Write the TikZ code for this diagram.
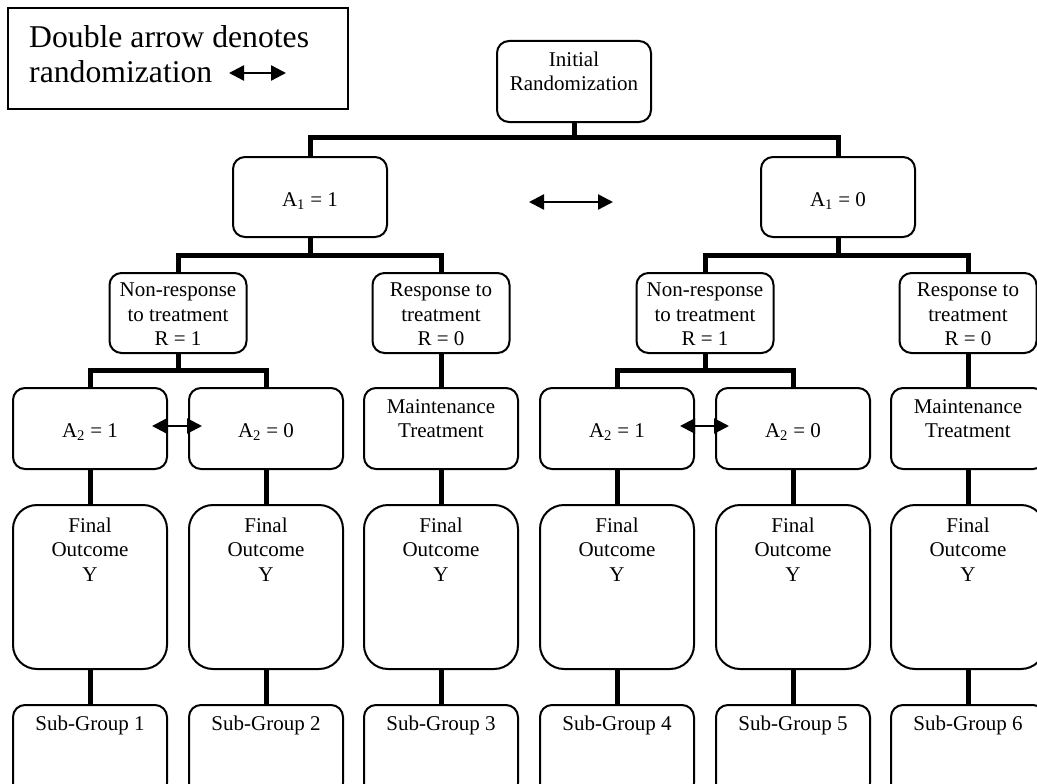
\documentclass[tikz,border=0pt]{standalone}
\usepackage{fontspec}
\setmainfont{Liberation Serif}
\usetikzlibrary{arrows.meta}
\newcommand{\tbx}[2]{\parbox[c][#1][t]{132pt}{\centering\fontsize{21}{24.5}\selectfont #2}}
\begin{document}
\begin{tikzpicture}[x=1pt,y=-1pt,
  box/.style={draw, line width=2pt, rounded corners=12pt, inner sep=0pt,
    minimum width=154pt, font=\fontsize{21}{24.5}\selectfont},
  fobox/.style={box, rounded corners=24pt, minimum height=164pt},
  sgbox/.style={box, minimum height=90pt},
  conn/.style={line width=5pt, line join=miter},
  dblarrow/.style={line width=2.4pt,
    {Triangle[length=15pt,width=15pt]}-{Triangle[length=15pt,width=15pt]}},
  legtxt/.style={inner sep=0pt, font=\fontsize{31.7}{35}\selectfont}]
\useasboundingbox (0,0) rectangle (1037,784);
\clip (0,0) rectangle (1037,784);

% legend
\node[draw, line width=2pt, minimum width=340pt, minimum height=101pt, inner sep=0pt] (legend) at (178,58.5) {};
\node[legtxt, anchor=base west] (lt1) at (29,48) {Double arrow denotes};
\node[legtxt, anchor=base west] (lt2) at (29,83) {randomization};
\coordinate (la1) at (229,73);
\coordinate (la2) at (286,73);
\draw[dblarrow] (la1) -- (la2);

% top
\node[box, minimum height=81pt] (init) at (574,81.5) {\tbx{59.6pt}{Initial\\Randomization}};
\node[box, minimum height=80pt] (a11) at (310,197) {\tbx{8.4pt}{A\textsubscript{1} = 1}};
\node[box, minimum height=80pt] (a10) at (838,197) {\tbx{8.4pt}{A\textsubscript{1} = 0}};
\coordinate (ma1) at (529,202);
\coordinate (ma2) at (613,202);
\draw[dblarrow] (ma1) -- (ma2);

% response level
\node[box, minimum width=137pt, minimum height=80pt] (nr1) at (178,313) {\tbx{59.8pt}{Non-response\\to treatment\\R = 1}};
\node[box, minimum width=137pt, minimum height=80pt] (rs1) at (441,313) {\tbx{59.8pt}{Response to\\treatment\\R = 0}};
\node[box, minimum width=137pt, minimum height=80pt] (nr2) at (705,313) {\tbx{59.8pt}{Non-response\\to treatment\\R = 1}};
\node[box, minimum width=137pt, minimum height=80pt] (rs2) at (968,313) {\tbx{59.8pt}{Response to\\treatment\\R = 0}};

% second treatment level
\node[box, minimum height=81pt] (a21) at (90,428.5) {\tbx{9.4pt}{A\textsubscript{2} = 1}};
\node[box, minimum height=81pt] (a20) at (266,428.5) {\tbx{9.4pt}{A\textsubscript{2} = 0}};
\node[box, minimum height=81pt] (mt1) at (441,428.5) {\tbx{58.8pt}{Maintenance\\Treatment}};
\node[box, minimum height=81pt] (b21) at (617,428.5) {\tbx{9.4pt}{A\textsubscript{2} = 1}};
\node[box, minimum height=81pt] (b20) at (793,428.5) {\tbx{9.4pt}{A\textsubscript{2} = 0}};
\node[box, minimum height=81pt] (mt2) at (968,428.5) {\tbx{58.8pt}{Maintenance\\Treatment}};
\coordinate (aa1) at (152,426);
\coordinate (aa2) at (202,426);
\draw[dblarrow] (aa1) -- (aa2);
\coordinate (ab1) at (680,426);
\coordinate (ab2) at (729,426);
\draw[dblarrow] (ab1) -- (ab2);

% final outcome
\node[fobox] (fo1) at (90,587) {\tbx{138.6pt}{Final\\Outcome\\Y}};
\node[fobox] (fo2) at (266,587) {\tbx{138.6pt}{Final\\Outcome\\Y}};
\node[fobox] (fo3) at (441,587) {\tbx{138.6pt}{Final\\Outcome\\Y}};
\node[fobox] (fo4) at (617,587) {\tbx{138.6pt}{Final\\Outcome\\Y}};
\node[fobox] (fo5) at (793,587) {\tbx{138.6pt}{Final\\Outcome\\Y}};
\node[fobox] (fo6) at (968,587) {\tbx{138.6pt}{Final\\Outcome\\Y}};

% sub-groups
\node[sgbox] (sg1) at (90,750) {\tbx{68.6pt}{Sub-Group 1}};
\node[sgbox] (sg2) at (266,750) {\tbx{68.6pt}{Sub-Group 2}};
\node[sgbox] (sg3) at (441,750) {\tbx{68.6pt}{Sub-Group 3}};
\node[sgbox] (sg4) at (617,750) {\tbx{68.6pt}{Sub-Group 4}};
\node[sgbox] (sg5) at (793,750) {\tbx{68.6pt}{Sub-Group 5}};
\node[sgbox] (sg6) at (968,750) {\tbx{68.6pt}{Sub-Group 6}};

% connectors
\coordinate (j0) at (574,137);
\coordinate (j1) at (310,255);
\coordinate (j2) at (838,255);
\coordinate (j3) at (178,370);
\coordinate (j4) at (705,370);
\draw[conn] (init) -- (j0);
\draw[conn] (a11.north) |- (j0) -| (a10.north);
\draw[conn] (a11) -- (j1);
\draw[conn] (nr1.north) |- (j1) -| (rs1.north);
\draw[conn] (a10) -- (j2);
\draw[conn] (nr2.north) |- (j2) -| (rs2.north);
\draw[conn] (nr1) -- (j3);
\draw[conn] (a21.north) |- (j3) -| (a20.north);
\draw[conn] (nr2) -- (j4);
\draw[conn] (b21.north) |- (j4) -| (b20.north);
\draw[conn] (rs1) -- (mt1);
\draw[conn] (rs2) -- (mt2);
\draw[conn] (a21) -- (fo1);
\draw[conn] (a20) -- (fo2);
\draw[conn] (mt1) -- (fo3);
\draw[conn] (b21) -- (fo4);
\draw[conn] (b20) -- (fo5);
\draw[conn] (mt2) -- (fo6);
\draw[conn] (fo1) -- (sg1);
\draw[conn] (fo2) -- (sg2);
\draw[conn] (fo3) -- (sg3);
\draw[conn] (fo4) -- (sg4);
\draw[conn] (fo5) -- (sg5);
\draw[conn] (fo6) -- (sg6);
\end{tikzpicture}
\end{document}
